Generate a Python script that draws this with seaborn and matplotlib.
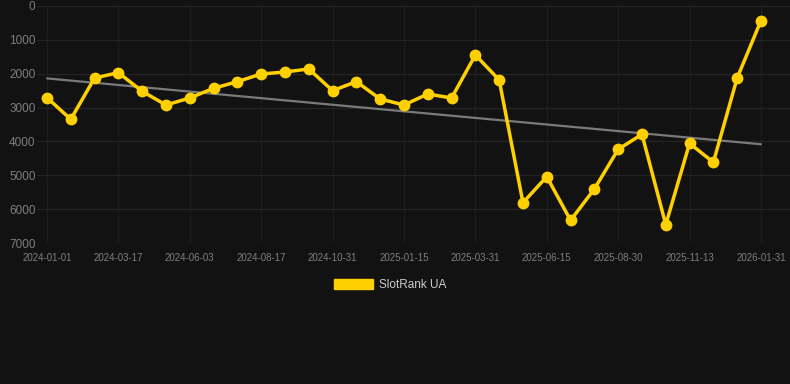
import numpy as np
import pandas as pd
import matplotlib
matplotlib.use("Agg")
import matplotlib.pyplot as plt
from matplotlib.patches import Patch
import seaborn as sns

# ---- data ----
dates = [
    "2024-01-01", "2024-01-26", "2024-02-21",
    "2024-03-17", "2024-04-12", "2024-05-08",
    "2024-06-03", "2024-06-28", "2024-07-23",
    "2024-08-17", "2024-09-11", "2024-10-06",
    "2024-10-31", "2024-11-25", "2024-12-21",
    "2025-01-15", "2025-02-09", "2025-03-06",
    "2025-03-31", "2025-04-25", "2025-05-21",
    "2025-06-15", "2025-07-10", "2025-08-05",
    "2025-08-30", "2025-09-24", "2025-10-19",
    "2025-11-13", "2025-12-09", "2026-01-05",
    "2026-01-31",
]
rank = [
    2708, 3346, 2126, 1969, 2520, 2924, 2717, 2431, 2234, 2008,
    1949, 1860, 2500, 2234, 2747, 2924, 2599, 2717, 1447, 2185,
    5809, 5041, 6330, 5405, 4233, 3790, 6458, 4056, 4617, 2126,
    433,
]
tick_labels = dates[::3]
y_ticks = [0, 1000, 2000, 3000, 4000, 5000, 6000, 7000]
series_name = "SlotRank UA"

# ---- style ----
sns.set_style("dark")
plt.rcParams["font.family"] = ["Liberation Sans", "DejaVu Sans"]

BG = "#121212"
GOLD = "#FFD000"
TICK = "#7e7e7e"

df = pd.DataFrame({"idx": np.arange(len(dates)), "date": dates, "rank": rank})

fig = plt.figure(figsize=(7.9, 3.84), dpi=100, facecolor=BG)
ax = fig.add_axes([37 / 790, (384 - 243) / 384, (790 - 37) / 790, (243 - 6) / 384])
ax.set_facecolor(BG)

# trend line (least squares fit of the series)
coef = np.polyfit(df["idx"], df["rank"], 1)
df["trend"] = np.polyval(coef, df["idx"])
sns.lineplot(data=df, x="idx", y="trend", ax=ax, color="#7a7a7a",
             linewidth=1.6, zorder=2)

sns.lineplot(data=df, x="idx", y="rank", ax=ax, color=GOLD, linewidth=2.5,
             marker="o", markersize=8.5, markeredgewidth=0, zorder=3)

ax.set_xlim(-0.42, 31.22)
ax.set_ylim(7000, 0)
ax.set_xticks(df["idx"][::3])
ax.set_xticklabels(tick_labels)
ax.set_yticks(y_ticks)
ax.set_yticklabels([str(v) for v in y_ticks])
ax.set_xlabel("")
ax.set_ylabel("")
ax.grid(True, axis="y", color="#242424", linewidth=0.9)
ax.grid(True, axis="x", color="#1c1c1c", linewidth=0.9)
for s in ax.spines.values():
    s.set_visible(False)
ax.tick_params(axis="x", colors=TICK, labelsize=7, length=0, pad=7)
ax.tick_params(axis="y", colors=TICK, labelsize=8.5, length=0, pad=1)

handle = Patch(facecolor=GOLD, edgecolor=GOLD)
fig.legend([handle], [series_name], loc="center",
           bbox_to_anchor=(390 / 790, 1 - 285 / 384), frameon=False,
           fontsize=8.5, labelcolor="#cccccc", handlelength=3.3,
           handleheight=1.0, handletextpad=0.5)

fig.savefig("out.png", dpi=100, facecolor=BG)
